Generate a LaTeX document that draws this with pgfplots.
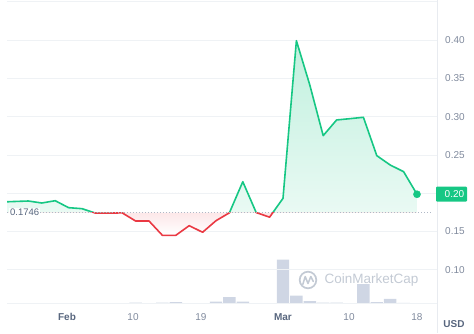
\documentclass[border=0pt]{standalone}
\usepackage{pgfplots}
\pgfplotsset{compat=1.18}
\usepackage{pgfplotstable}
\usepackage{fontspec}
\setmainfont{Liberation Sans}
\definecolor{cmcgreen}{HTML}{16C784}
\definecolor{cmcred}{HTML}{EA3943}
\definecolor{gridc}{HTML}{EFF2F5}
\definecolor{axc}{HTML}{E8EBF0}
\definecolor{lab}{HTML}{808A9D}
\definecolor{labdark}{HTML}{58667E}
\definecolor{barc}{HTML}{CFD6E4}
\definecolor{wm}{HTML}{C3CAD4}
\definecolor{refc}{HTML}{B0B8C6}

\pgfplotstableread{
i p
0 0.1885
1 0.1892
2 0.1898
3 0.1872
4 0.1902
5 0.1811
6 0.1798
7 0.1740
8 0.1740
9 0.1743
10 0.1637
11 0.1637
12 0.1450
13 0.1450
14 0.1576
15 0.1490
16 0.1641
17 0.1744
18 0.2150
19 0.1747
20 0.1687
21 0.1933
22 0.3991
23 0.3413
24 0.2751
25 0.2956
26 0.2973
27 0.2991
28 0.2490
29 0.2368
30 0.2281
31 0.1986
}\price

\pgfplotstableread{
i v
10 1.0
12 1.0
13 1.5
16 2.0
17 6.3
18 2.0
21 44
22 8
23 2.3
24 1.0
25 1.0
26 0.4
27 19.3
28 1.3
29 4.7
30 0.7
31 0.5
}\volume

\begin{document}
\begin{tikzpicture}[x=1pt,y=1pt]
\useasboundingbox (0,0) rectangle (474,333);
% volume bars
\begin{axis}[at={(7pt,29.5pt)}, anchor=south west, scale only axis,
  width=430pt, height=303.5pt, xmin=0.403, xmax=32.493, ymin=0, ymax=303.5,
  hide axis, ybar, bar width=12.4pt]
\addplot[fill=barc, draw=none] table[x=i,y=v]{\volume};
\end{axis}
% price
\begin{axis}[at={(7pt,29.5pt)}, anchor=south west, scale only axis,
  width=430pt, height=303.5pt, xmin=0.403, xmax=32.493, ymin=0.056, ymax=0.4522,
  axis line style={draw=none}, major tick length=0pt,
  ytick={0.10,0.15,0.20,0.25,0.30,0.35,0.40,0.45},
  yticklabels={0.10,0.15,,0.25,0.30,0.35,0.40,},
  yticklabel pos=right,
  yticklabel style={anchor=west, inner sep=0pt, xshift=8pt, text=lab, font=\fontsize{10}{12}\selectfont},
  xtick={4.88,9.81,14.88,21.0,25.93,31.0},
  xticklabels={\textcolor{labdark}{\textbf{Feb}},10,19,\textcolor{labdark}{\textbf{Mar}},10,18},
  xticklabel style={anchor=center, inner sep=0pt, yshift=-13.5pt, text=lab, font=\fontsize{10}{12}\selectfont},
  ymajorgrids, grid style={gridc, line width=0.7pt},
  clip mode=individual]
\begin{scope}
\clip (axis cs:0,0.1746) rectangle (axis cs:33,0.5);
\addplot[draw=none, top color=cmcgreen!27!white, bottom color=white, forget plot] table[x=i,y=p]{\price} \closedcycle;
\addplot[cmcgreen, line width=1.6pt, line join=round, forget plot] table[x=i,y=p]{\price};
\end{scope}
\begin{scope}
\clip (axis cs:0,0) rectangle (axis cs:33,0.1746);
\addplot[draw=none, top color=cmcred, bottom color=white, forget plot] table[x=i,y=p]{\price} -- (axis cs:31,0.1746) -- (axis cs:0,0.1746) -- cycle;
\addplot[cmcred, line width=1.6pt, line join=round, forget plot] table[x=i,y=p]{\price};
\end{scope}
\addplot[refc, line width=0.6pt, dash pattern=on 1pt off 2pt, forget plot] coordinates {(0.403,0.1746) (32.19,0.1746)};
\addplot[only marks, mark=*, mark size=3.6pt, cmcgreen, forget plot] coordinates {(31,0.1986)};
\end{axis}
% frame lines
\draw[axc, line width=0.7pt] (437,0) -- (437,333);
\draw[gridc, line width=0.7pt] (7,29.5) -- (437,29.5);
% reference label
\node[anchor=west, fill=white, inner sep=1pt, text=labdark, font=\fontsize{9.5}{11}\selectfont] at (9,120.3) {0.1746};
% current price tag
\fill[cmcgreen, rounded corners=1pt] (436,131.3) rectangle (467,146.3);
\node[anchor=west, inner sep=0pt, text=white, font=\fontsize{10}{12}\selectfont] at (444.5,138.8) {0.20};
% currency
\node[text=labdark, font=\bfseries\fontsize{10}{12}\selectfont] at (454,9) {USD};
% watermark
\draw[wm, line width=1.7pt] (308,53) circle (8.3);
\draw[wm, line width=1.5pt, line join=round, line cap=round] (302.8,48.5) -- (305.2,56.5) -- (308,49.5) -- (310.8,56.5) -- (313.3,51.5);
\node[anchor=west, inner sep=0pt, text=wm, font=\fontsize{13.5}{15}\selectfont] at (324.5,53) {CoinMarketCap};
\end{tikzpicture}
\end{document}
